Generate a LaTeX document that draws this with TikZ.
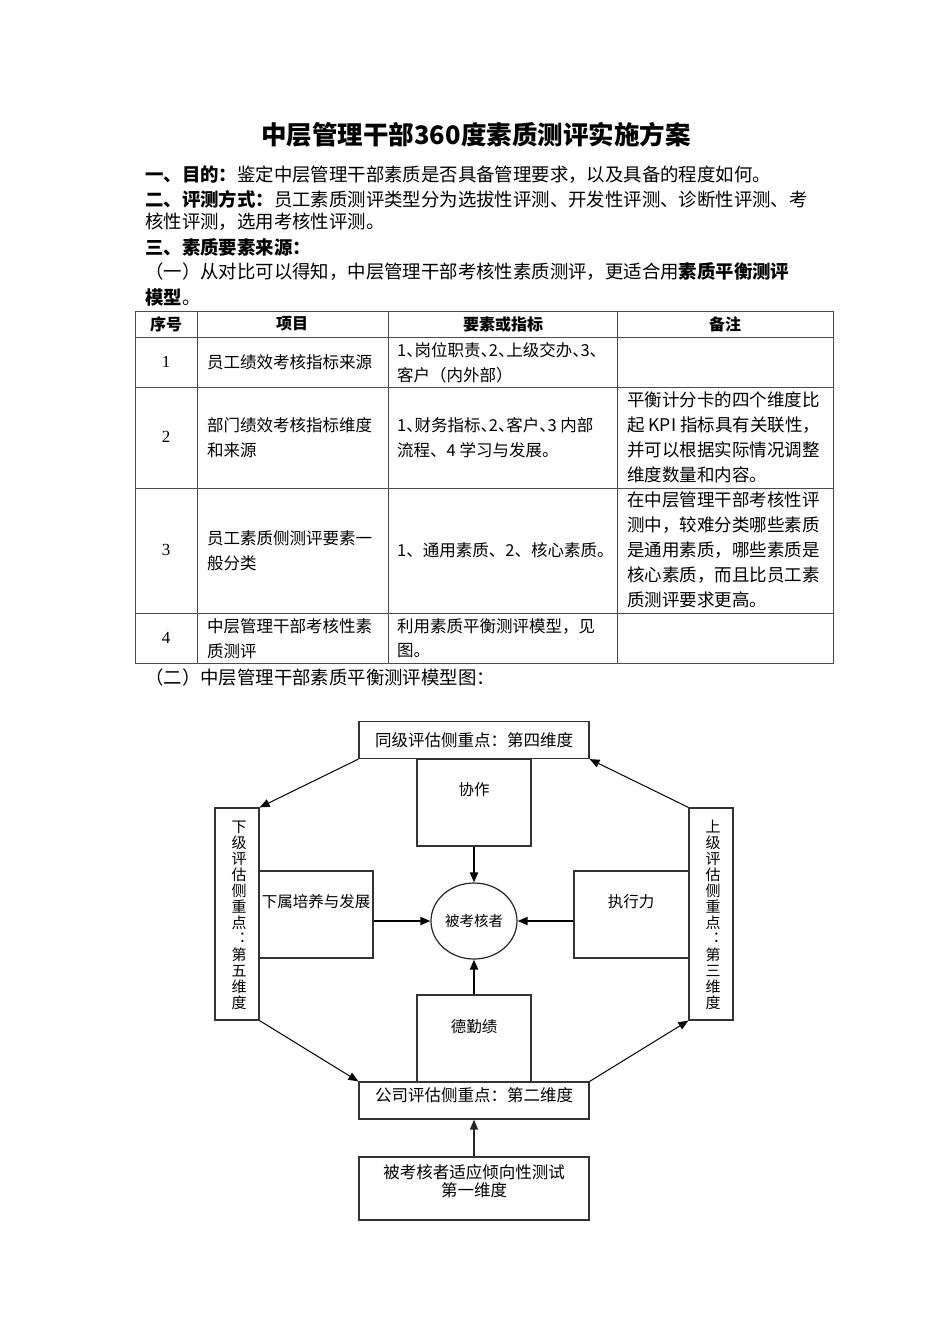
\documentclass[tikz,border=0pt]{standalone}
\usepackage{fontspec}
\setmainfont{Noto Sans CJK SC}
\newfontfamily\halfpunct[RawFeature=+halt]{Noto Sans CJK SC}
\newfontfamily\serifnum{Liberation Serif}
\usepackage{tikz}
\usetikzlibrary{arrows.meta, positioning, shapes.geometric}

\begin{document}
\begin{tikzpicture}[
    x=1pt, y=-1pt,
    every node/.style={inner sep=0pt},
    doctitle/.style={font=\fontsize{25.5}{26}\selectfont\bfseries},
    para/.style={anchor=west, font=\fontsize{18.4}{20}\selectfont},
    tline/.style={draw=black!70, line width=1pt},
    headcell/.style={font=\fontsize{16}{16}\selectfont\bfseries},
    cell/.style={anchor=west, font=\fontsize{16.5}{16}\selectfont},
    notecell/.style={anchor=west, font=\fontsize{17.5}{16}\selectfont},
    numcell/.style={font=\fontsize{17}{17}\serifnum},
    box/.style={draw=black!80, line width=1.2pt, rectangle},
    boxtext/.style={font=\fontsize{15.5}{16}\selectfont},
    widetext/.style={font=\fontsize{16.5}{18}\selectfont, align=center},
    vtext/.style={font=\fontsize{15}{16}\selectfont, align=center},
    flow/.style={-{Triangle[length=10pt,width=8pt]}, line width=2pt},
    link/.style={-{Triangle[length=10pt,width=8pt]}, line width=1pt},
    uplink/.style={-{Triangle[length=10pt,width=8pt]}, line width=1.5pt, black!85}
]
\useasboundingbox (0,0) rectangle (950,1344);

\def\tl{135}  % table left
\def\tr{833}  % table right
\def\tt{311}  % table top
\def\tb{663}  % table bottom

% title and text
\node[doctitle] (title) at (476,135) {中层管理干部360度素质测评实施方案};
\node[para] (aim) at (145,175) {\textbf{一、目的：}鉴定中层管理干部素质是否具备管理要求，以及具备的程度如何。};
\node[para] (way1) at (145,199) {\textbf{二、评测方式：}员工素质测评类型分为选拔性评测、开发性评测、诊断性评测、考};
\node[para] (way2) at (145,222) {核性评测，选用考核性评测。};
\node[para] (src) at (145,247) {\textbf{三、素质要素来源：}};
\node[para] (one1) at (145,272) {（一）从对比可以得知，中层管理干部考核性素质测评，更适合用\textbf{素质平衡测评}};
\node[para] (one2) at (145,298) {\textbf{模型}。};

% table grid
\draw[tline] (\tl,\tt) rectangle (\tr,\tb);
\foreach \x in {197,388,617} {
    \draw[tline] (\x,\tt) -- (\x,\tb);
}
\foreach \y in {337,387,488,613} {
    \draw[tline] (\tl,\y) -- (\tr,\y);
}

% table header
\node[headcell] (hno) at (166,324) {序号};
\node[headcell] (hitem) at (292,324) {项目};
\node[headcell] (hkey) at (503,324) {要素或指标};
\node[headcell] (hnote) at (725,324) {备注};

% row 1
\node[numcell] (n1) at (166,362) {1};
\node[cell] (item1) at (207,362) {员工绩效考核指标来源};
\node[cell] (key1a) at (397,350) {\halfpunct 1、岗位职责、2、上级交办、3、};
\node[cell] (key1b) at (397,375) {客户（内外部）};

% row 2
\node[numcell] (n2) at (166,437) {2};
\node[cell] (item2a) at (207,425) {部门绩效考核指标维度};
\node[cell] (item2b) at (207,450) {和来源};
\node[cell] (key2a) at (397,425) {\halfpunct 1、财务指标、2、客户、3 内部};
\node[cell] (key2b) at (397,450) {流程、4 学习与发展。};
\node[notecell] (note2a) at (627,400) {平衡计分卡的四个维度比};
\node[notecell] (note2b) at (627,425) {起 KPI 指标具有关联性，};
\node[notecell] (note2c) at (627,450) {并可以根据实际情况调整};
\node[notecell] (note2d) at (627,475) {维度数量和内容。};

% row 3
\node[numcell] (n3) at (166,550) {3};
\node[cell] (item3a) at (207,538) {员工素质侧测评要素一};
\node[cell] (item3b) at (207,563) {般分类};
\node[cell] (key3) at (397,550) {1、通用素质、2、核心素质。};
\node[notecell] (note3a) at (627,500) {在中层管理干部考核性评};
\node[notecell] (note3b) at (627,525) {测中，较难分类哪些素质};
\node[notecell] (note3c) at (627,550) {是通用素质，哪些素质是};
\node[notecell] (note3d) at (627,575) {核心素质，而且比员工素};
\node[notecell] (note3e) at (627,600) {质测评要求更高。};

% row 4
\node[numcell] (n4) at (166,638) {4};
\node[cell] (item4a) at (207,626) {中层管理干部考核性素};
\node[cell] (item4b) at (207,651) {质测评};
\node[cell] (key4a) at (397,626) {利用素质平衡测评模型，见};
\node[cell] (key4b) at (397,651) {图。};

\node[para] (two) at (145,677) {（二）中层管理干部素质平衡测评模型图：};

% model diagram
\node[box, widetext, minimum width=230, minimum height=37] (peer) at (474,740) {同级评估侧重点：第四维度};
\node[box, minimum width=114, minimum height=87] (teamwork) at (474,802.5) {};
\node[boxtext] (teamworkt) at (474,790) {协作};
\node[box, minimum width=114, minimum height=87] (develop) at (316,914.5) {};
\node[boxtext] (developt) at (316,902) {下属培养与发展};
\node[box, minimum width=115, minimum height=87] (execute) at (631.5,914.5) {};
\node[boxtext] (executet) at (631,902) {执行力};
\node[draw=black!85, line width=1.2pt, ellipse, minimum width=86, minimum height=76,
      font=\fontsize{14.5}{15}\selectfont] (person) at (474,921) {被考核者};
\node[box, minimum width=114, minimum height=87] (virtue) at (474,1038.5) {};
\node[boxtext] (virtuet) at (474,1027) {德勤绩};
\node[box, minimum width=230, minimum height=37] (company) at (474,1100.5) {};
\node[widetext] (companyt) at (474,1095) {公司评估侧重点：第二维度};
\node[box, minimum width=230, minimum height=63] (aptitude) at (474,1188.5) {};
\node[widetext] (aptitudet) at (474,1181) {被考核者适应倾向性测试\\第一维度};

\node[box, minimum width=44, minimum height=212] (lower) at (237,914) {};
\node[vtext] (lowert) at (239,915) {下\\级\\评\\估\\侧\\重\\点\\︓\\第\\五\\维\\度};
\node[box, minimum width=44, minimum height=212] (upper) at (711,914) {};
\node[vtext] (uppert) at (713,915) {上\\级\\评\\估\\侧\\重\\点\\︓\\第\\三\\维\\度};

% connectors
\draw[link] (peer.south west) -- (lower.north east);
\draw[link] (upper.north west) -- (peer.south east);
\draw[link] (lower.south east) -- (company.north west);
\draw[link] (company.north east) -- (upper.south west);

\draw[flow] (teamwork.south) -- (person.north);
\draw[flow] (develop.east |- person) -- (person.west);
\draw[flow] (execute.west |- person) -- (person.east);
\draw[flow] (virtue.north) -- (person.south);
\draw[uplink] (aptitude.north) -- (company.south);

\end{tikzpicture}
\end{document}
